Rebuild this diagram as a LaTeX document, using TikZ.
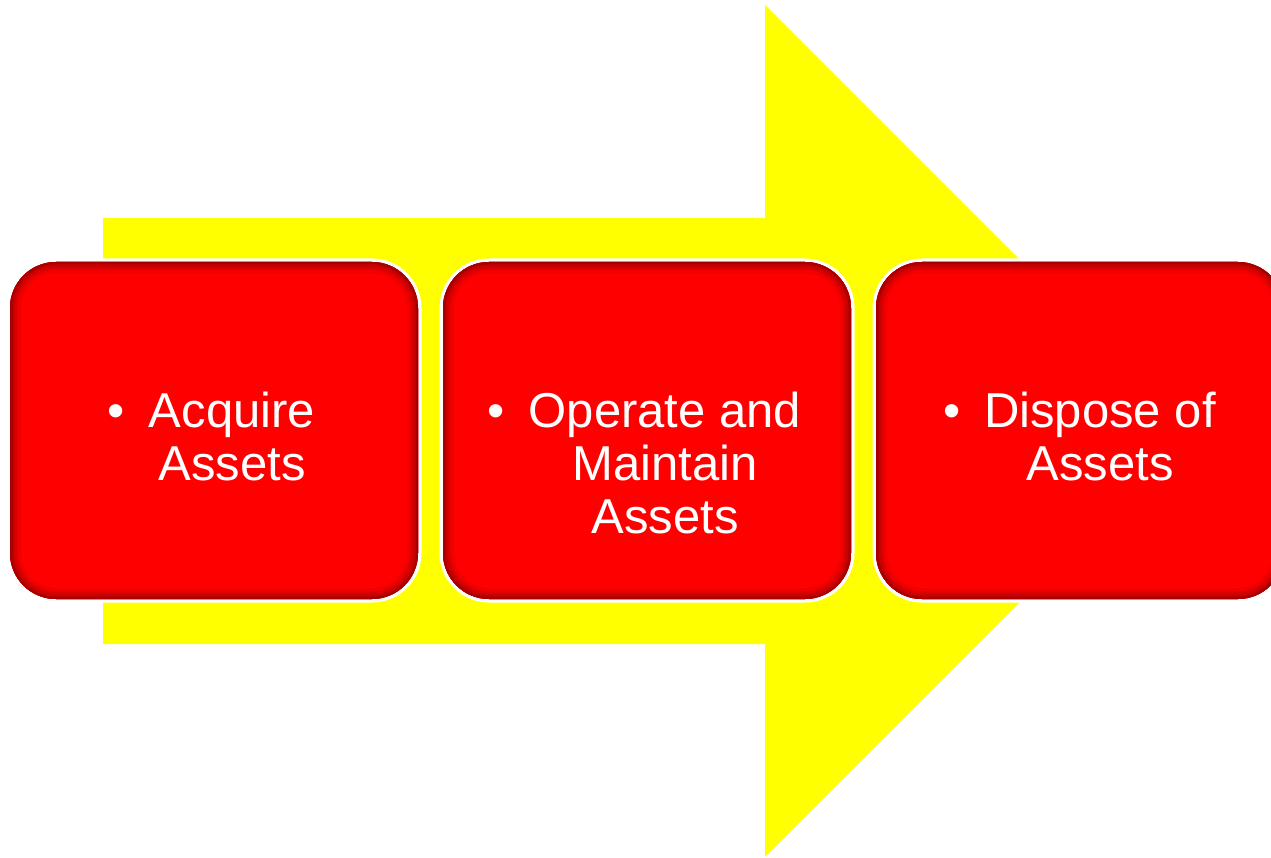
\documentclass[tikz,border=0pt]{standalone}
\usepackage{fontspec}
\setmainfont{Liberation Sans}
\begin{document}
\begin{tikzpicture}[x=1pt,y=-1pt,
  stagebox/.style={minimum width=408pt, minimum height=337pt, inner sep=0pt,
    rounded corners=46pt, fill={rgb,255:red,255;green,0;blue,0},
    preaction={draw=white, line width=7pt},
    path picture={
      \foreach \w/\c in {22/94,15/86,10/78,5/66}{
        \draw[line width=\w pt, draw=red!\c!black, rounded corners=46pt]
          (path picture bounding box.south west) rectangle (path picture bounding box.north east);
      }
    }},
  stagetext/.style={anchor=north, inner sep=0pt, align=center, text=white,
    font=\fontsize{49}{53}\selectfont},
  flowarrow/.style={fill={rgb,255:red,255;green,255;blue,0}, draw=none}]
\useasboundingbox[fill=white] (0,0) rectangle (1271,858);
\clip (0,0) rectangle (1271,858);
\fill[flowarrow] (103,218) -- (765,218) -- (765,5) -- (1191,431) -- (765,857) -- (765,644) -- (103,644) -- cycle;
\node[stagebox] (b1) at (214,430.5) {};
\node[stagebox] (b2) at (647,430.5) {};
\node[stagebox] (b3) at (1080,430.5) {};
\node[stagetext] (t1) at (232,392) {\llap{•\hspace{24pt}}Acquire\\Assets};
\node[stagetext] (t2) at (665,392) {\llap{•\hspace{24pt}}Operate and\\Maintain\\Assets};
\node[stagetext] (t3) at (1100,392) {\llap{•\hspace{24pt}}Dispose of\\Assets};
\end{tikzpicture}
\end{document}
